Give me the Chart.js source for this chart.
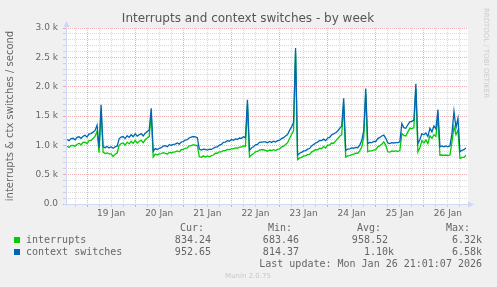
<!DOCTYPE html>
<html>
<head>
<meta charset="utf-8">
<script src="https://cdn.jsdelivr.net/npm/chart.js@4.4.1/dist/chart.umd.min.js"></script>
<style>
html, body { margin: 0; padding: 0; background: #f0f0f0; }
canvas { display: block; }
</style>
</head>
<body>
<canvas id="munin" width="497" height="287"></canvas>
<script>
// time axis is in days counted from 19 Jan 00:00, one sample per hour
var START_DAY = -10 / 24;   // 18 Jan 14:00
var STEP_DAY = 1 / 24;
var dayLabels = ['19 Jan', '20 Jan', '21 Jan', '22 Jan', '23 Jan', '24 Jan', '25 Jan', '26 Jan'];

var contextSwitches = [
	1100,1080,1115,1120,1095,1135,1145,1120,1155,1170,1140,1195,1200,1225,1255,1345,
	965,1690,975,960,980,955,975,950,975,985,
	1110,1140,1150,1115,1165,1135,1180,1145,1195,1155,1180,1200,1160,1205,1235,1260,
	1630,
	900,945,930,950,960,985,995,975,1010,1000,1015,1020,1040,1020,1055,1065,1090,1095,1130,1140,1150,1145,1130,
	935,920,935,930,920,935,930,950,970,975,1005,1015,1050,1055,1080,1070,1100,1085,1110,1100,1125,1120,1145,1130,
	1775,
	915,955,975,1010,1015,1050,1055,1060,1060,1045,1065,1050,1070,1055,1080,1085,1115,1130,1160,1185,1255,1315,1390,
	2660,
	830,865,880,905,910,935,945,990,1015,1040,1055,1085,1080,1105,1080,1125,1135,1180,1195,1215,1245,1290,1330,
	1800,
	915,935,940,955,950,965,960,1005,1080,1250,
	1970,
	1030,1050,1045,1065,1065,1115,1135,1160,1175,1120,1040,1030,1045,1040,1045,1045,1060,1370,1300,1290,1350,1400,1410,1430,
	2050,
	1030,1100,1200,1180,1210,1150,1290,1230,1330,1280,
	1610,
	975,990,975,990,975,990,
	1200,1580,1300,1460,890,915,925,953
];

var interrupts = [
	985,965,995,1000,985,1015,1035,1010,1050,1055,1030,1080,1085,1115,1155,1240,
	875,1580,885,860,870,855,855,810,850,870,
	1000,1030,1040,1005,1055,1025,1070,1035,1085,1040,1070,1085,1045,1095,1125,1150,
	1540,
	800,850,835,855,860,875,865,850,880,870,885,890,905,890,925,930,950,955,990,995,1010,1000,1000,
	805,795,820,800,820,805,825,835,865,865,890,890,910,910,930,925,945,940,955,950,970,970,990,980,
	1690,
	800,835,855,890,895,920,925,925,915,900,920,910,925,910,930,940,970,985,1015,1045,1115,1185,1250,
	2580,
	755,785,795,820,820,840,845,885,905,925,925,950,945,980,955,1005,1005,1040,1035,1075,1115,1155,1180,
	1700,
	800,820,825,840,850,865,865,905,970,1140,
	1880,
	890,905,905,920,925,975,995,1020,1060,1000,890,885,905,895,910,895,910,1200,1170,1160,1230,1290,1285,1300,
	1960,
	890,960,1080,1040,1090,1030,1160,1120,1180,1150,
	1500,
	830,835,830,835,825,835,
	1060,1320,1180,1260,775,795,795,834
];

var legendRows = [
	{ name: 'interrupts', color: '#00cc00', cur: '834.24 ', min: '683.46 ', avg: '958.52 ', max: '6.32k' },
	{ name: 'context switches', color: '#0066b3', cur: '952.65 ', min: '814.37 ', avg: '  1.10k', max: '6.58k' }
];
var lastUpdate = 'Last update: Mon Jan 26 21:01:07 2026';

var MAJOR = 'rgba(222,79,79,0.45)';
var MINOR = 'rgba(170,170,170,0.45)';
var AXIS = '#CFD6F8';
var FONT = '#666666';

function toPoints(values) {
	return values.map(function(v, i) { return { x: START_DAY + i * STEP_DAY, y: v }; });
}

var muninDecor = {
	id: 'muninDecor',
	beforeDraw: function(chart) {
		var c = chart.ctx, a = chart.chartArea;
		c.save();
		c.fillStyle = '#f0f0f0';
		c.fillRect(0, 0, chart.width, chart.height);
		c.fillStyle = '#ffffff';
		c.fillRect(a.left, a.top, a.right - a.left, a.bottom - a.top);
		c.restore();
	},
	afterDraw: function(chart) {
		var c = chart.ctx, a = chart.chartArea;
		c.save();
		// axes + arrows
		c.strokeStyle = AXIS;
		c.fillStyle = AXIS;
		c.lineWidth = 1;
		c.beginPath();
		c.moveTo(a.left + 0.5, a.bottom + 2);
		c.lineTo(a.left + 0.5, a.top - 4);
		c.moveTo(a.left - 2, a.bottom + 0.5);
		c.lineTo(a.right + 3, a.bottom + 0.5);
		c.stroke();
		c.beginPath();
		c.moveTo(a.left + 0.5, a.top - 7);
		c.lineTo(a.left - 2.5, a.top - 1);
		c.lineTo(a.left + 3.5, a.top - 1);
		c.fill();
		c.beginPath();
		c.moveTo(a.right + 6, a.bottom + 0.5);
		c.lineTo(a.right, a.bottom - 2.5);
		c.lineTo(a.right, a.bottom + 3.5);
		c.fill();

		// title
		c.fillStyle = '#555555';
		c.font = '12px "DejaVu Sans"';
		c.textAlign = 'center';
		c.textBaseline = 'middle';
		c.fillText('Interrupts and context switches - by week', 248, 19);

		// vertical axis title
		c.save();
		c.translate(10, (a.top + a.bottom) / 2);
		c.rotate(-Math.PI / 2);
		c.fillStyle = FONT;
		c.font = '10px "DejaVu Sans"';
		c.fillText('interrupts & ctx switches / second', 0, 0);
		c.restore();

		// rrdtool credit
		c.save();
		c.translate(486, 53);
		c.rotate(Math.PI / 2);
		c.fillStyle = '#cccccc';
		c.font = '7px "DejaVu Sans"';
		c.fillText('RRDTOOL / TOBI OETIKER', 0, 0);
		c.restore();

		// legend table
		c.font = '10px "DejaVu Sans Mono"';
		c.fillStyle = FONT;
		c.textAlign = 'right';
		c.fillText('Cur:', 204, 228);
		c.fillText('Min:', 292, 228);
		c.fillText('Avg:', 381, 228);
		c.fillText('Max:', 470, 228);
		legendRows.forEach(function(row, i) {
			var y = 240 + i * 12;
			c.fillStyle = row.color;
			c.fillRect(14, y - 3, 6, 6);
			c.fillStyle = FONT;
			c.textAlign = 'left';
			c.fillText(row.name, 26, y);
			c.textAlign = 'right';
			c.fillText(row.cur, 217, y);
			c.fillText(row.min, 305, y);
			c.fillText(row.avg, 394, y);
			c.fillText(row.max, 482, y);
		});
		c.fillText(lastUpdate, 482, 264);

		c.fillStyle = '#c8c8c8';
		c.font = '7px "DejaVu Sans"';
		c.textAlign = 'center';
		c.fillText('Munin 2.0.75', 248, 276);
		c.restore();
	}
};

Chart.defaults.font.family = '"DejaVu Sans"';
Chart.defaults.color = FONT;

var chart = new Chart(document.getElementById('munin'), {
	type: 'line',
	data: {
		datasets: [
			{ label: 'context switches', data: toPoints(contextSwitches), borderColor: '#0066b3', borderWidth: 1.3, pointRadius: 0, tension: 0, order: 1 },
			{ label: 'interrupts', data: toPoints(interrupts), borderColor: '#00cc00', borderWidth: 1.3, pointRadius: 0, tension: 0, order: 2 }
		]
	},
	options: {
		responsive: false,
		animation: false,
		devicePixelRatio: 1,
		layout: { padding: { top: 28, right: 29, left: 0, bottom: 0 } },
		plugins: { legend: { display: false }, tooltip: { enabled: false }, title: { display: false } },
		scales: {
			x: {
				type: 'linear',
				min: -0.4375,
				max: 190 / 24,
				afterFit: function(s) { s.height = 83; },
				afterBuildTicks: function(s) {
					var t = [];
					for (var q = -1; q <= 31; q++) t.push({ value: q / 4 });
					s.ticks = t;
				},
				ticks: {
					autoSkip: false,
					maxRotation: 0,
					padding: 1,
					font: { size: 9 },
					callback: function(v) {
						var d = Math.floor(v);
						return (Math.abs(v - d - 0.5) < 1e-6 && dayLabels[d]) ? dayLabels[d] : '';
					}
				},
				grid: {
					color: function(c) { return (c.tick && Number.isInteger(c.tick.value)) ? MAJOR : MINOR; },
					tickLength: 3,
					lineWidth: 1
				},
				border: { display: false, dash: [1, 1] }
			},
			y: {
				min: 0,
				max: 3000,
				afterFit: function(s) { s.width = 66; },
				afterBuildTicks: function(s) {
					var t = [];
					for (var v = 0; v <= 3000; v += 100) t.push({ value: v });
					s.ticks = t;
				},
				ticks: {
					autoSkip: false,
					padding: 5,
					font: { size: 9 },
					callback: function(v) {
						if (v % 500 !== 0) return '';
						return v === 0 ? '0.0' : (v / 1000).toFixed(1) + ' k';
					}
				},
				grid: {
					color: function(c) { return (c.tick && c.tick.value % 500 === 0) ? MAJOR : MINOR; },
					tickLength: 3,
					lineWidth: 1
				},
				border: { display: false, dash: [1, 1] }
			}
		}
	},
	plugins: [muninDecor]
});
</script>
</body>
</html>
